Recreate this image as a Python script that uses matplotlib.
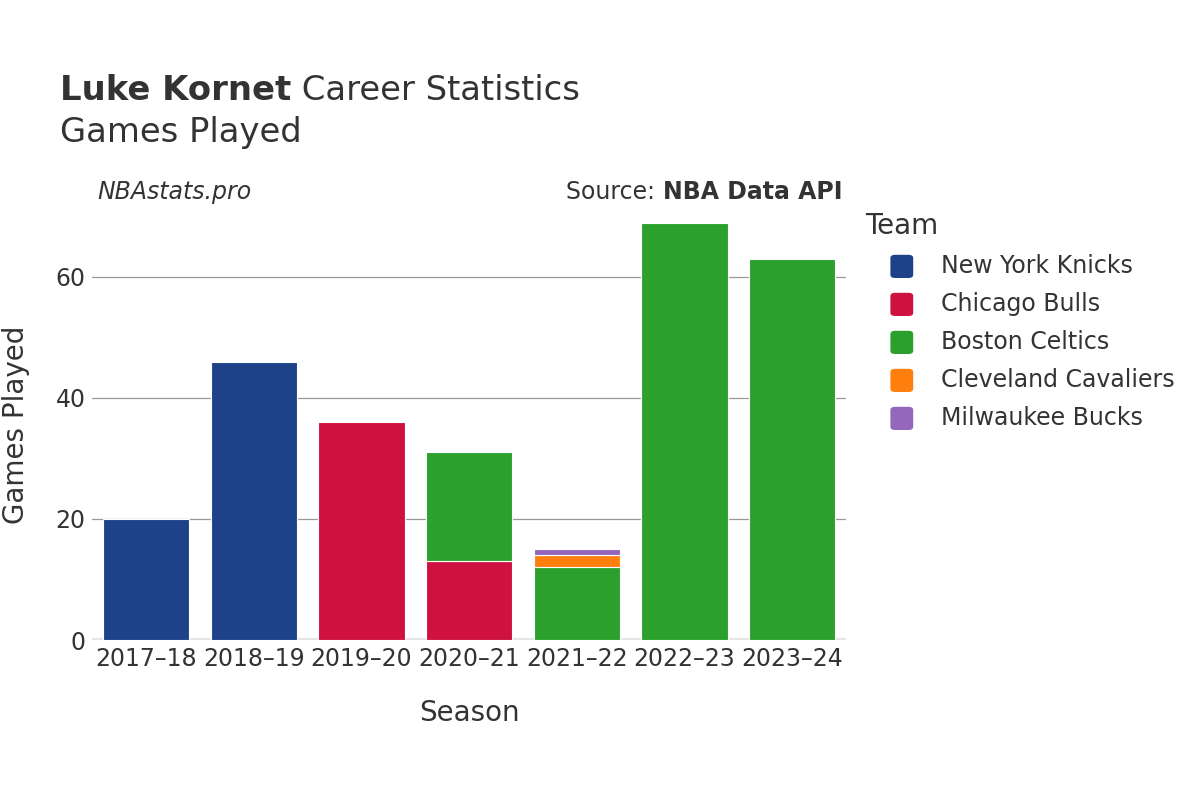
import numpy as np
import matplotlib
matplotlib.use("Agg")
import matplotlib.pyplot as plt
from matplotlib.patches import FancyBboxPatch

plt.rcParams['font.family'] = ['DejaVu Sans']

seasons = ["2017–18", "2018–19", "2019–20", "2020–21", "2021–22", "2022–23", "2023–24"]
teams = ["New York Knicks", "Chicago Bulls", "Boston Celtics", "Cleveland Cavaliers", "Milwaukee Bucks"]
team_colors = ["#1d428a", "#ce1141", "#2ca02c", "#ff7f0e", "#9467bd"]

# games per team per season (stack order bottom -> top)
games = {
    "New York Knicks":     [20, 46, 0, 0, 0, 0, 0],
    "Chicago Bulls":       [0, 0, 36, 13, 0, 0, 0],
    "Boston Celtics":      [0, 0, 0, 18, 12, 69, 63],
    "Cleveland Cavaliers": [0, 0, 0, 0, 2, 0, 0],
    "Milwaukee Bucks":     [0, 0, 0, 0, 1, 0, 0],
}

text_color = "#333333"
fs_tick = 17
fs_title = 24.4
fs_axis = 20

fig = plt.figure(figsize=(12, 8), dpi=100)
ax = fig.add_axes([0.077, 0.2, 0.628, 0.537])

x = np.arange(len(seasons))
bottom = np.zeros(len(seasons))
for team, color in zip(teams, team_colors):
    vals = np.array(games[team], dtype=float)
    mask = vals > 0
    ax.bar(x[mask], vals[mask], bottom=bottom[mask], width=0.8, color=color,
           edgecolor="white", linewidth=0.8, zorder=3)
    bottom += vals

ax.set_xlim(-0.5, len(seasons) - 0.5)
ax.set_ylim(0, 71.0)
ax.set_yticks([0, 20, 40, 60])
ax.set_xticks(x)
ax.set_xticklabels(seasons)
ax.tick_params(axis="both", length=0, labelsize=fs_tick, colors=text_color, pad=5)
ax.grid(axis="y", color="#999999", linewidth=0.9, zorder=0)
ax.axhline(0, color="#e6e6e6", linewidth=3, zorder=2)
for s in ax.spines.values():
    s.set_visible(False)

ax.set_xlabel("Season", fontsize=fs_axis, color=text_color, labelpad=20)
ax.set_ylabel("Games Played", fontsize=fs_axis, color=text_color, labelpad=18)

fig.canvas.draw()
W = fig.bbox.width

# titles
t1 = fig.text(0.05, 0.887, "Luke Kornet", fontsize=fs_title, fontweight="bold",
              color=text_color, va="center")
fig.canvas.draw()
x1 = t1.get_window_extent().x1 / W
fig.text(x1, 0.887, " Career Statistics", fontsize=fs_title, color=text_color, va="center")
fig.text(0.05, 0.834, "Games Played", fontsize=fs_title, color=text_color, va="center")
fig.text(0.081, 0.76, "NBAstats.pro", fontsize=fs_tick, style="italic", color=text_color, va="center")
src = fig.text(0.702, 0.76, "NBA Data API", fontsize=fs_tick, fontweight="bold", color=text_color,
               va="center", ha="right")
fig.canvas.draw()
bb = src.get_window_extent()
fig.text(bb.x0 / W, 0.76, "Source: ", fontsize=fs_tick, color=text_color,
         va="center", ha="right")

# legend
fig.text(0.721, 0.717, "Team", fontsize=fs_axis, color=text_color, va="center")
for i, (team, color) in enumerate(zip(teams, team_colors)):
    yc = 0.667 - i * 0.0475
    box = FancyBboxPatch((0.742, yc - 0.0145), 0.019, 0.029,
                         boxstyle="round,pad=0,rounding_size=0.004",
                         transform=fig.transFigure, facecolor=color, edgecolor="none")
    fig.patches.append(box)
    fig.text(0.784, yc, team, fontsize=fs_tick, color=text_color, va="center")

fig.savefig("out.png", dpi=100)
